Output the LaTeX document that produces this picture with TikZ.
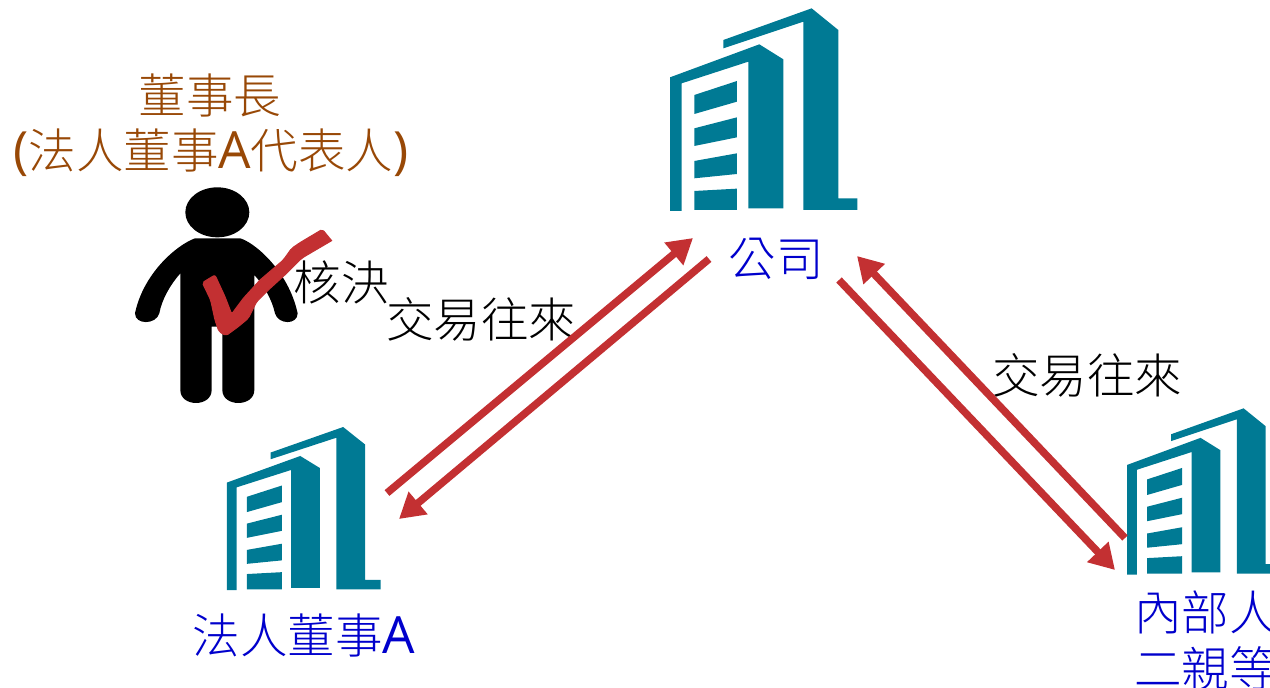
\documentclass[tikz,border=0pt]{standalone}
\usepackage{fontspec}
\setmainfont[UprightFont={* Light}]{Noto Sans CJK TC}
\newfontfamily\latinf[Scale=1.08]{Open Sans}
\newcommand{\LA}{{\latinf A}}
\usetikzlibrary{arrows.meta}
\definecolor{teal1}{HTML}{007A94}
\definecolor{redline}{HTML}{C33032}
\definecolor{brown1}{HTML}{984806}
\definecolor{blue1}{HTML}{0000CC}
\tikzset{
  x=1pt,y=-1pt,
  bldg/.pic={
    \begin{scope}[x=0.3333pt,y=-0.3333pt,fill=teal1]
    \fill (250,120)--(515,25)--(595,90)--(595,595)--(652,595)--(652,630)--(490,630)--(490,65)--(250,145)--cycle;
    \fill (90,232)--(358,133)--(430,178)--(430,625)--(325,625)--(325,185)--(125,250)--(125,633)--(90,633)--cycle;
    \fill (163,285)--(291,243)--(291,305)--(163,342)--cycle;
    \fill (163,385)--(291,352)--(291,412)--(163,438)--cycle;
    \fill (163,483)--(291,460)--(291,522)--(163,535)--cycle;
    \fill (163,573)--(291,566)--(291,630)--(163,630)--cycle;
    \end{scope}
  },
  flow/.style={draw=redline,line width=7.5pt,-{Triangle[length=25pt,width=28pt]}},
  lbl/.style={font=\fontsize{47.5}{52}\selectfont,inner sep=0pt,text=black},
  blbl/.style={lbl,text=blue1},
  brlbl/.style={lbl,text=brown1},
}
\begin{document}
\begin{tikzpicture}
\useasboundingbox (0,0) rectangle (1270,688);
\clip (0,0) rectangle (1270,688);
\pic at (640,0) {bldg};
\pic[xscale=0.82,yscale=0.805] at (202.4,420.3) {bldg};
\pic[xscale=0.822,yscale=0.82] at (1102.5,401.5) {bldg};
% person
\begin{scope}[shift={(120pt,-170pt)},x=0.3333pt,y=-0.3333pt]
\fill[black] (292,127) ellipse [x radius=32pt,y radius=25pt];
\fill[black] (225,205)--(360,205) .. controls (400,215) and (505,300) .. (533,430)
 .. controls (533,465) and (475,465) .. (465,430)
 .. controls (455,385) and (430,345) .. (403,315)
 --(403,660) .. controls (403,712) and (307,712) .. (307,660)
 --(307,470)--(275,470)--(275,660) .. controls (275,712) and (181,712) .. (181,660)
 --(181,310) .. controls (150,345) and (125,390) .. (118,430)
 .. controls (108,465) and (45,465) .. (45,430)
 .. controls (70,310) and (170,225) .. (225,205)--cycle;
\filldraw[fill=redline,draw=redline,line width=1pt,rounded corners=2pt] (247,338)--(285,315)--(315,380)--(335,432)--(370,385)--(420,330)--(490,270)--(515,235)--(540,218)--(607,178)[sharp corners]--(635,212)[rounded corners=2pt]--(570,250)--(545,265)--(500,310)--(445,360)--(410,395)--(385,445)--(355,470)--(318,497)--(297,485)--(285,450)--(272,390)--cycle;
\end{scope}
% labels
\node[brlbl] (chair) at (210,95) {董事長};
\node[brlbl] (rep) at (211,153) {{\latinf(}法人董事\LA 代表人{\latinf)}};
\node[blbl] (co) at (776,259) {公司};
\node[blbl] (corp) at (304,635) {法人董事\LA};
\node[blbl,anchor=west] (ins1) at (1134,612) {內部人};
\node[blbl,anchor=west] (ins2) at (1134,668) {二親等};
\node[lbl] (appr) at (341,282) {核決};
\node[lbl] (t1) at (481,319) {交易往來};
\node[lbl] (t2) at (1087,375) {交易往來};
% connectors
\coordinate (a1) at (387,493); \coordinate (a2) at (693,238);
\coordinate (b1) at (709,259); \coordinate (b2) at (399,519);
\coordinate (c1) at (1125,538); \coordinate (c2) at (857,256);
\coordinate (d1) at (839,280); \coordinate (d2) at (1115,570);
\draw[flow] (a1)--(a2);
\draw[flow] (b1)--(b2);
\draw[flow] (c1)--(c2);
\draw[flow] (d1)--(d2);
\end{tikzpicture}
\end{document}
